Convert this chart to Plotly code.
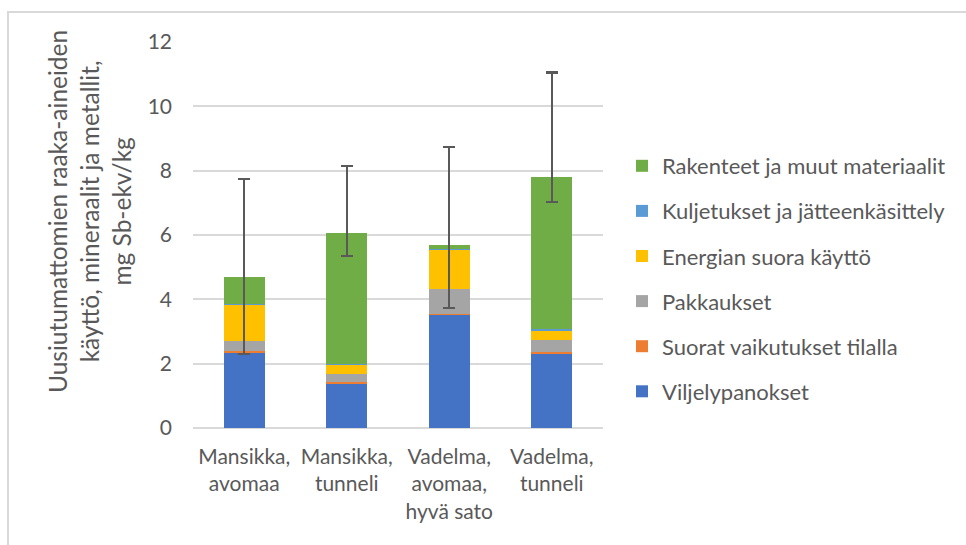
import plotly.graph_objects as go

categories = ["Mansikka,<br>avomaa", "Mansikka,<br>tunneli", "Vadelma,<br>avomaa,<br>hyvä sato", "Vadelma,<br>tunneli"]
viljelypanokset = [2.36, 1.38, 3.52, 2.31]
suorat = [0.02, 0.04, 0.01, 0.04]
pakkaukset = [0.34, 0.27, 0.78, 0.38]
energia = [1.12, 0.29, 1.25, 0.31]
kuljetukset = [0.01, 0.02, 0.01, 0.04]
rakenteet = [0.86, 4.06, 0.13, 4.73]
err_plus = [3.03, 2.09, 3.04, 3.24]
err_minus = [2.42, 0.71, 1.97, 0.78]
y_ticks = [0, 2, 4, 6, 8, 10, 12]
y_title = "Uusiutumattomien raaka-aineiden<br>käyttö, mineraalit ja metallit,<br>mg Sb-ekv/kg"

series = [
    ("Viljelypanokset", viljelypanokset, "#4472C4"),
    ("Suorat vaikutukset tilalla", suorat, "#ED7D31"),
    ("Pakkaukset", pakkaukset, "#A5A5A5"),
    ("Energian suora käyttö", energia, "#FFC000"),
    ("Kuljetukset ja jätteenkäsittely", kuljetukset, "#5B9BD5"),
    ("Rakenteet ja muut materiaalit", rakenteet, "#70AD47"),
]

FONT = "Lato"
TXT = "#595959"

fig = go.Figure()
n = len(series)
for i, (name, vals, col) in enumerate(series):
    kw = {}
    if i == n - 1:
        kw["error_y"] = dict(type="data", symmetric=False, array=err_plus, arrayminus=err_minus,
                             color="#595959", thickness=2.2, width=6)
    fig.add_trace(go.Bar(x=categories, y=vals, name=name, marker=dict(color=col, line=dict(width=0)),
                         legendgroup=name, legendrank=n - i, **kw))

W, H = 966, 545
l, r, t, b = 193, 363, 42, 117
pw, ph = W - l - r, H - t - b

fig.update_layout(
    width=W, height=H, barmode="stack", bargap=0.6,
    margin=dict(l=l, r=r, t=t, b=b),
    paper_bgcolor="white", plot_bgcolor="white",
    font=dict(family=FONT, color=TXT, size=20),
    xaxis=dict(showgrid=False, showline=False, ticks="", tickfont=dict(size=21, color=TXT),
               ticklabelstandoff=14),
    yaxis=dict(range=[0, 12], tickvals=y_ticks, showgrid=True, gridcolor="#d9d9d9", gridwidth=1.5,
               zeroline=True, zerolinecolor="#d9d9d9", zerolinewidth=1.5, ticks="",
               tickfont=dict(size=21, color=TXT), ticklabelstandoff=20),
    legend=dict(x=(622 - l) / pw, y=1 - (145 - t) / ph, xanchor="left", yanchor="top",
                traceorder="grouped", tracegroupgap=13.5, font=dict(size=22, color=TXT),
                itemwidth=30, bgcolor="rgba(0,0,0,0)"),
    annotations=[
        dict(text=y_title, textangle=-90, xref="paper", yref="paper",
             x=(89 - l) / pw, y=(H - b - 212) / ph, xanchor="center", yanchor="middle",
             showarrow=False, font=dict(size=24.5, color=TXT, family=FONT)),
    ],
    shapes=[
        dict(type="line", xref="paper", yref="paper", x0=(7 - l) / pw, x1=(W - l) / pw,
             y0=1 + (t - 12) / ph, y1=1 + (t - 12) / ph, line=dict(color="#d9d9d9", width=2)),
        dict(type="line", xref="paper", yref="paper", x0=(8 - l) / pw, x1=(8 - l) / pw,
             y0=1 + (t - 12) / ph, y1=-b / ph, line=dict(color="#d9d9d9", width=2)),
    ],
)

fig.write_html("out.html", config={"displayModeBar": False},
               post_script="document.body.style.margin='0px';document.body.style.padding='0px';")
